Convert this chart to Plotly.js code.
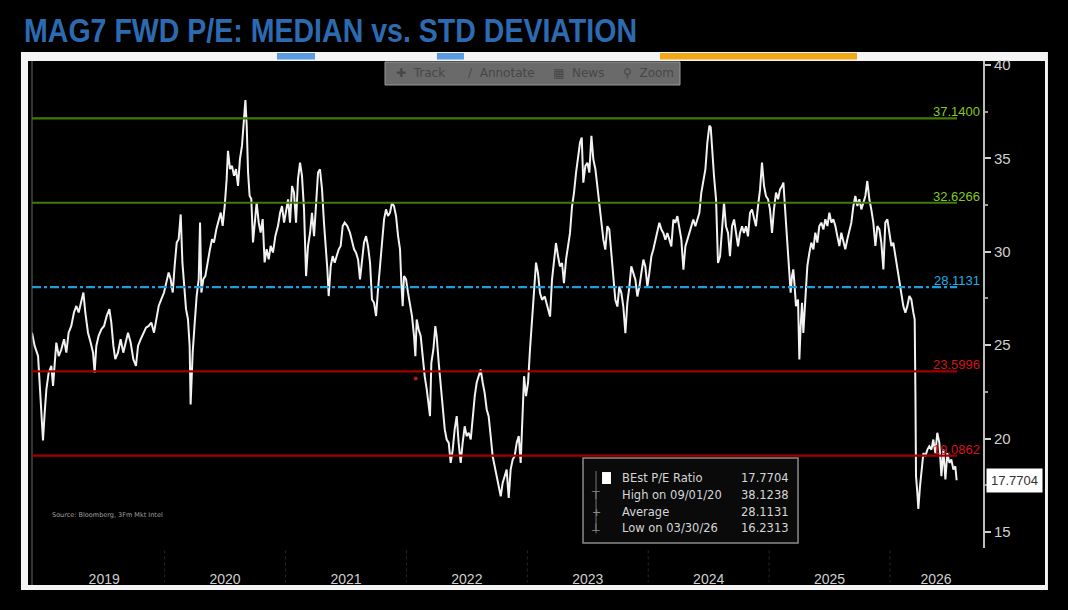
<!DOCTYPE html>
<html>
<head>
<meta charset="utf-8">
<script src="https://cdn.plot.ly/plotly-3.0.1.min.js"></script>
<style>
  html, body { margin: 0; padding: 0; background: #000; }
  #chart { width: 1068px; height: 610px; }
</style>
</head>
<body>
<div id="chart"></div>
<script>
// BEst P/E ratio (x in decimal years)
const obsYear = [
  2018.903, 2018.925, 2018.953, 2018.975, 2018.994, 2019.008, 2019.022, 2019.041, 2019.063, 2019.077,
  2019.091, 2019.104, 2019.124, 2019.146, 2019.168, 2019.187, 2019.206, 2019.228, 2019.250, 2019.270,
  2019.289, 2019.311, 2019.328, 2019.344, 2019.366, 2019.388, 2019.408, 2019.421, 2019.435, 2019.454,
  2019.477, 2019.499, 2019.521, 2019.543, 2019.559, 2019.576, 2019.592, 2019.614, 2019.636, 2019.658,
  2019.681, 2019.697, 2019.719, 2019.741, 2019.763, 2019.780, 2019.802, 2019.824, 2019.846, 2019.868,
  2019.890, 2019.912, 2019.934, 2019.951, 2019.973, 2019.995, 2020.014, 2020.033, 2020.050, 2020.067,
  2020.083, 2020.100, 2020.116, 2020.133, 2020.147, 2020.160, 2020.177, 2020.193, 2020.207, 2020.215,
  2020.232, 2020.249, 2020.265, 2020.282, 2020.293, 2020.304, 2020.320, 2020.337, 2020.359, 2020.375,
  2020.392, 2020.408, 2020.428, 2020.447, 2020.464, 2020.480, 2020.497, 2020.513, 2020.524, 2020.541,
  2020.557, 2020.574, 2020.590, 2020.607, 2020.623, 2020.640, 2020.657, 2020.668, 2020.679, 2020.690,
  2020.703, 2020.717, 2020.731, 2020.745, 2020.761, 2020.778, 2020.794, 2020.811, 2020.827, 2020.844,
  2020.861, 2020.877, 2020.896, 2020.916, 2020.938,
  2020.955, 2020.971, 2020.988, 2021.004, 2021.021, 2021.037, 2021.054, 2021.070, 2021.087, 2021.103,
  2021.120, 2021.136, 2021.153, 2021.170, 2021.186, 2021.203, 2021.219, 2021.236, 2021.252, 2021.269,
  2021.285, 2021.302, 2021.318, 2021.335, 2021.346, 2021.357, 2021.374, 2021.390, 2021.407, 2021.423,
  2021.440, 2021.456, 2021.473, 2021.489, 2021.511, 2021.533, 2021.550, 2021.567, 2021.583, 2021.600,
  2021.616, 2021.633, 2021.649, 2021.666, 2021.682, 2021.699, 2021.715, 2021.732, 2021.749, 2021.765,
  2021.782, 2021.798, 2021.815, 2021.831, 2021.848, 2021.864, 2021.881, 2021.897, 2021.914, 2021.931,
  2021.947, 2021.958, 2021.969, 2021.980, 2021.997, 2022.013, 2022.030, 2022.046, 2022.063, 2022.074,
  2022.085, 2022.101, 2022.118, 2022.134, 2022.151, 2022.168, 2022.184, 2022.195, 2022.206, 2022.223,
  2022.239, 2022.250, 2022.267, 2022.283, 2022.300, 2022.317, 2022.333, 2022.350, 2022.366, 2022.383,
  2022.399, 2022.416, 2022.432, 2022.449, 2022.465, 2022.482, 2022.498, 2022.515, 2022.532, 2022.548,
  2022.565, 2022.581, 2022.598, 2022.614, 2022.631, 2022.647, 2022.664, 2022.680, 2022.697, 2022.713,
  2022.730, 2022.747, 2022.763, 2022.780, 2022.796, 2022.813, 2022.829, 2022.846, 2022.862, 2022.879,
  2022.895, 2022.912, 2022.929, 2022.945, 2022.962, 2022.973, 2022.989, 2023.006, 2023.022, 2023.039,
  2023.055, 2023.072,
  2023.088, 2023.105, 2023.122, 2023.144, 2023.166, 2023.188, 2023.204, 2023.221, 2023.237, 2023.254,
  2023.270, 2023.287, 2023.303, 2023.320, 2023.337, 2023.353, 2023.370, 2023.386, 2023.403, 2023.419,
  2023.436, 2023.450, 2023.463, 2023.480, 2023.497, 2023.513, 2023.530, 2023.546, 2023.563, 2023.579,
  2023.596, 2023.612, 2023.629, 2023.645, 2023.662, 2023.678, 2023.695, 2023.712, 2023.728, 2023.745,
  2023.761, 2023.778, 2023.794, 2023.811, 2023.827, 2023.844, 2023.860, 2023.877, 2023.894, 2023.910,
  2023.927, 2023.943, 2023.960, 2023.976, 2023.993, 2024.009, 2024.026, 2024.042, 2024.059, 2024.076,
  2024.092, 2024.109, 2024.125, 2024.142, 2024.158, 2024.175, 2024.191, 2024.208, 2024.224, 2024.241,
  2024.257, 2024.274, 2024.291, 2024.307, 2024.324, 2024.340, 2024.357, 2024.373, 2024.390, 2024.406,
  2024.423, 2024.439, 2024.456, 2024.473, 2024.489, 2024.506, 2024.517, 2024.528, 2024.544, 2024.561,
  2024.577, 2024.594, 2024.610, 2024.627, 2024.643, 2024.660, 2024.676, 2024.693, 2024.710, 2024.726,
  2024.743, 2024.759, 2024.776, 2024.792, 2024.809, 2024.825, 2024.842, 2024.858, 2024.875, 2024.891,
  2024.908, 2024.925, 2024.941, 2024.958, 2024.974, 2024.991, 2025.007, 2025.024, 2025.040,
  2025.057, 2025.074, 2025.090, 2025.107, 2025.118, 2025.134, 2025.151, 2025.167, 2025.178, 2025.189,
  2025.200, 2025.211, 2025.222, 2025.239, 2025.250, 2025.261, 2025.272, 2025.283, 2025.294, 2025.305,
  2025.316, 2025.333, 2025.349, 2025.366, 2025.382, 2025.399, 2025.415, 2025.432, 2025.449, 2025.465,
  2025.482, 2025.498, 2025.515, 2025.531, 2025.548, 2025.564, 2025.581, 2025.597, 2025.614, 2025.630,
  2025.647, 2025.664, 2025.680, 2025.697, 2025.713, 2025.730, 2025.746, 2025.763, 2025.779, 2025.796,
  2025.812, 2025.829, 2025.845, 2025.862, 2025.879, 2025.895, 2025.912, 2025.928, 2025.945, 2025.961,
  2025.978, 2025.994, 2026.011, 2026.027, 2026.044, 2026.061, 2026.077, 2026.094, 2026.110, 2026.127,
  2026.143, 2026.160, 2026.176, 2026.193, 2026.204, 2026.210, 2026.215, 2026.226, 2026.234, 2026.248,
  2026.265, 2026.276, 2026.292, 2026.309, 2026.325, 2026.342, 2026.358, 2026.375, 2026.391, 2026.408,
  2026.425, 2026.441, 2026.458, 2026.474, 2026.491, 2026.507, 2026.524, 2026.540, 2026.551
];
const bestPE = [
  25.67, 24.96, 24.42, 22.28, 19.90, 21.39, 22.64, 23.53, 23.89, 22.82,
  24.07, 25.14, 24.42, 24.78, 25.32, 24.60, 25.67, 26.03, 26.75, 27.10,
  26.75, 27.46, 27.82, 26.75, 25.67, 25.14, 24.60, 23.53, 24.96, 25.50,
  25.85, 26.03, 26.57, 26.93, 26.21, 24.96, 24.25, 24.60, 25.32, 24.60,
  25.32, 25.67, 25.14, 24.25, 23.89, 24.96, 25.32, 25.67, 25.94, 26.03,
  26.21, 25.67, 26.39, 27.10, 27.46, 27.82, 28.35, 28.89, 28.53, 27.82,
  29.25, 30.50, 30.67, 32.00, 29.43, 28.17, 26.93, 26.39, 24.96, 21.83,
  24.60, 26.21, 27.64, 28.53, 31.57, 27.82, 28.53, 28.71, 29.60, 30.14,
  30.67, 30.50, 31.21, 31.75, 32.10, 31.39, 32.46, 33.89, 35.41, 34.43,
  34.60, 34.07, 34.43, 33.53, 34.96, 35.68, 37.10, 38.12, 36.75, 34.25,
  33.00, 32.82, 30.50, 31.75, 32.64, 31.57, 31.03, 31.75, 29.43, 30.14,
  29.60, 30.32, 29.96, 30.85, 31.39,
  32.09, 32.45, 31.56, 32.27, 32.81, 31.56, 33.52, 33.17, 31.56, 33.88,
  34.77, 34.06, 32.27, 28.70, 30.31, 31.02, 32.09, 30.84, 32.81, 34.24,
  34.42, 33.34, 31.56, 30.31, 29.06, 27.63, 29.24, 29.77, 29.42, 29.77,
  30.13, 30.31, 31.38, 31.56, 31.38, 31.02, 30.49, 30.13, 29.95, 29.59,
  28.52, 29.59, 30.49, 30.84, 30.31, 29.42, 27.45, 27.27, 26.56, 27.99,
  29.24, 30.84, 31.74, 32.27, 31.92, 32.09, 32.63, 32.45, 31.92, 30.84,
  30.13, 28.34, 27.09, 28.70, 28.52, 27.81, 27.27, 26.56, 25.49, 24.41,
  26.38, 25.84, 25.49, 24.41, 23.34, 22.63, 21.91, 21.20, 24.06, 24.77,
  26.02, 25.49, 24.06, 22.99, 21.91, 20.49, 19.95, 19.77, 18.70, 19.41,
  20.49, 21.20, 19.77, 18.70, 19.77, 20.66, 20.13, 20.31, 19.95, 21.20,
  22.27, 22.99, 23.34, 23.70, 22.99, 22.45, 21.56, 21.20, 20.13, 19.06,
  18.52, 17.99, 17.45, 16.91, 17.63, 17.99, 18.34, 16.82, 18.34, 18.88,
  19.06, 19.77, 20.13, 18.70, 21.20, 23.34, 22.27, 22.99, 24.77, 26.56,
  27.99, 29.42,
  28.86, 27.79, 27.43, 27.61, 27.07, 26.53, 28.50, 29.40, 30.47, 29.76,
  29.22, 29.40, 28.32, 29.58, 30.47, 31.01, 32.45, 33.16, 34.24, 34.95,
  35.85, 36.12, 33.70, 34.60, 34.77, 34.24, 36.21, 34.95, 34.42, 33.52,
  32.45, 31.55, 30.65, 30.12, 31.37, 31.19, 29.94, 28.68, 27.43, 27.07,
  28.14, 27.79, 27.07, 25.64, 27.25, 28.14, 29.22, 28.86, 28.50, 27.61,
  28.14, 28.86, 29.58, 29.22, 28.14, 28.86, 29.76, 30.12, 30.65, 31.19,
  31.55, 31.19, 31.01, 30.65, 31.01, 30.65, 30.29, 31.73, 31.55, 31.91,
  31.19, 30.65, 29.04, 30.29, 30.65, 31.01, 31.37, 31.73, 31.37, 31.73,
  32.09, 33.16, 33.88, 34.42, 35.85, 36.75, 36.66, 35.49, 34.06, 32.81,
  29.40, 29.76, 31.37, 32.63, 31.37, 31.01, 29.76, 31.37, 31.73, 31.01,
  30.29, 31.01, 31.37, 31.01, 31.37, 30.83, 32.09, 32.27, 31.73, 31.37,
  32.45, 33.34, 34.77, 33.52, 32.98, 32.81, 32.27, 31.01, 32.27,
  33.17, 32.81, 33.34, 33.52, 33.70, 32.09, 30.31, 29.06, 27.81, 28.70,
  29.06, 28.16, 27.09, 27.45, 24.24, 26.02, 27.27, 25.66, 27.09, 28.52,
  29.24, 29.95, 30.49, 30.13, 31.02, 30.49, 31.38, 31.56, 31.20, 31.74,
  31.38, 32.09, 31.56, 31.74, 31.38, 30.84, 30.31, 31.02, 30.49, 30.13,
  30.67, 31.20, 31.56, 32.45, 32.99, 32.45, 32.81, 32.27, 32.63, 32.99,
  33.79, 32.81, 32.27, 31.56, 30.31, 31.38, 31.20, 30.49, 29.06, 31.56,
  31.74, 31.02, 30.31, 30.49, 29.77, 29.06, 28.52, 27.81, 27.09, 26.74,
  27.09, 27.63, 27.45, 26.74, 26.38, 22.45, 17.99, 17.09, 16.23, 17.45,
  18.52, 19.23, 19.06, 19.41, 19.59, 19.41, 19.95, 19.23, 20.31, 19.77,
  17.99, 19.41, 17.81, 19.23, 18.70, 18.88, 18.34, 18.52, 17.77
];

// median and +/- 1, 2 std deviation levels
const bandLevels = [37.14, 32.6266, 28.1131, 23.5996, 19.0862];
const bandLabels = ['37.1400', '32.6266', '28.1131', '23.5996', '19.0862'];
const bandLineColors = ['#3f7d06', '#3f7d06', '#1a9fd8', '#a00000', '#a00000'];
const bandTextColors = ['#86c81e', '#86c81e', '#22aee6', '#d3141c', '#d3141c'];

// x axis: year labels centred on the visible part of each year
const yearTicks = [2019.5, 2020.5, 2021.5, 2022.5, 2023.5, 2024.5, 2025.5, 2026.38];
const yearLabels = ['2019', '2020', '2021', '2022', '2023', '2024', '2025', '2026'];
const yearStarts = [2020, 2021, 2022, 2023, 2024, 2025, 2026];

const legendNames = ['BEst P/E Ratio', 'High on 09/01/20', 'Average', 'Low on 03/30/26'];
const legendValues = ['17.7704', '38.1238', '28.1131', '16.2313'];
const lastValue = 17.7704;

const noteYear = [2022.077];
const noteValue = [23.22];

const toolbarItems = ['\u271A  Track', '\u2215  Annotate', '\u25A6  News', '\u26B2  Zoom'];
const toolbarX = [0.381, 0.456, 0.546, 0.619];

const xRange = [2018.903, 2026.769];
const yRange = [14.143, 40.214];

const traces = [
  {
    x: obsYear, y: bestPE, type: 'scatter', mode: 'lines',
    line: {color: '#f2f2f2', width: 2},
    hoverinfo: 'skip',
  },
  {
    x: noteYear, y: noteValue, type: 'scatter', mode: 'markers',
    marker: {color: '#c0141c', size: 4},
    hoverinfo: 'skip',
  },
];

const shapes = [
  // white frame around the Bloomberg panel
  {type: 'rect', xref: 'paper', yref: 'paper', x0: -0.0116, x1: 1.0683, y0: -0.0862, y1: 1.0185,
    fillcolor: '#f4f4f4', line: {width: 0}, layer: 'below'},
  {type: 'rect', xref: 'paper', yref: 'paper', x0: -0.0042, x1: 1.0652, y0: -0.076, y1: 1.0,
    fillcolor: '#000', line: {width: 0}, layer: 'below'},
  // header strip highlights
  {type: 'rect', xref: 'paper', yref: 'paper', x0: 0.2576, x1: 0.2976, y0: 1.003, y1: 1.0165,
    fillcolor: '#5b9be0', line: {width: 0}},
  {type: 'rect', xref: 'paper', yref: 'paper', x0: 0.4258, x1: 0.4542, y0: 1.003, y1: 1.0165,
    fillcolor: '#5b9be0', line: {width: 0}},
  {type: 'rect', xref: 'paper', yref: 'paper', x0: 0.6604, x1: 0.8675, y0: 1.003, y1: 1.0165,
    fillcolor: '#f0a818', line: {width: 0}},
  // left edge
  {type: 'line', xref: 'paper', yref: 'paper', x0: 0, x1: 0, y0: -0.076, y1: 1,
    line: {color: '#6a6a6a', width: 1}},
  // toolbar
  {type: 'rect', xref: 'paper', yref: 'paper', x0: 0.3712, x1: 0.6814, y0: 0.9507, y1: 0.998,
    fillcolor: '#6a6a6a', line: {color: '#9a9a9a', width: 1}},
  // legend box
  {type: 'rect', xref: 'paper', yref: 'paper', x0: 0.5794, x1: 0.8055, y0: 0.0103, y1: 0.1848,
    fillcolor: '#0a0a0a', line: {color: '#8a8a8a', width: 1.5}},
  {type: 'line', xref: 'paper', yref: 'paper', x0: 0.5931, x1: 0.5931, y0: 0.030, y1: 0.158,
    line: {color: '#777', width: 1}},
  {type: 'rect', xref: 'paper', yref: 'paper', x0: 0.5994, x1: 0.6088, y0: 0.1314, y1: 0.156,
    fillcolor: '#fff', line: {width: 0}},
];

bandLevels.forEach((lvl, i) => {
  shapes.push({
    type: 'line', xref: 'paper', yref: 'y', x0: 0, x1: 0.9727, y0: lvl, y1: lvl,
    line: {color: bandLineColors[i], width: 2.2, dash: i === 2 ? 'dashdot' : 'solid'},
  });
});

yearStarts.forEach((yr) => {
  shapes.push({
    type: 'line', xref: 'x', yref: 'paper', x0: yr, x1: yr, y0: -0.005, y1: -0.07,
    line: {color: '#262626', width: 1, dash: 'dot'},
  });
});

const annotations = [];

bandLevels.forEach((lvl, i) => {
  annotations.push({
    xref: 'paper', yref: 'y', x: 0.999, y: lvl, xanchor: 'right', yanchor: 'bottom',
    yshift: -3, text: bandLabels[i], showarrow: false,
    font: {family: 'Liberation Sans, Arial, sans-serif', size: 13, color: bandTextColors[i]},
  });
});

// last value tag on the axis
annotations.push({
  xref: 'paper', yref: 'y', x: 1, y: lastValue, xanchor: 'left', yanchor: 'middle',
  xshift: 3, text: lastValue.toFixed(4), showarrow: false,
  bgcolor: '#ffffff', borderpad: 4,
  font: {family: 'Liberation Sans, Arial, sans-serif', size: 13, color: '#333'},
});

// legend rows
const legendRowY = [0.1437, 0.1088, 0.0739, 0.0411];
const legendIcons = ['', '\u22A4', '+', '\u22A5'];
legendNames.forEach((name, i) => {
  annotations.push({
    xref: 'paper', yref: 'paper', x: 0.6183, y: legendRowY[i], xanchor: 'left', yanchor: 'middle',
    text: name, showarrow: false,
    font: {family: 'DejaVu Sans, sans-serif', size: 11.5, color: '#d6d6d6'},
  });
  annotations.push({
    xref: 'paper', yref: 'paper', x: 0.7981, y: legendRowY[i], xanchor: 'right', yanchor: 'middle',
    text: legendValues[i], showarrow: false,
    font: {family: 'DejaVu Sans, sans-serif', size: 11.5, color: '#d6d6d6'},
  });
  if (legendIcons[i]) {
    annotations.push({
      xref: 'paper', yref: 'paper', x: 0.5931, y: legendRowY[i], xanchor: 'center', yanchor: 'middle',
      text: legendIcons[i], showarrow: false,
      font: {family: 'DejaVu Sans, sans-serif', size: 11, color: '#8a8a8a'},
    });
  }
});

toolbarItems.forEach((label, i) => {
  annotations.push({
    xref: 'paper', yref: 'paper', x: toolbarX[i], y: 0.9745, xanchor: 'left', yanchor: 'middle',
    text: label, showarrow: false,
    font: {family: 'DejaVu Sans, sans-serif', size: 12, color: '#474747'},
  });
});

annotations.push({
  xref: 'paper', yref: 'paper', x: 0.019, y: 0.0678, xanchor: 'left', yanchor: 'middle',
  text: 'Source: Bloomberg, 3Fm Mkt Intel', showarrow: false,
  font: {family: 'DejaVu Sans, sans-serif', size: 6.5, color: '#a0a0a0'},
});

const layout = {
  width: 1068,
  height: 610,
  margin: {l: 32, r: 85, t: 61, b: 62},
  paper_bgcolor: '#000',
  plot_bgcolor: 'rgba(0,0,0,0)',
  showlegend: false,
  title: {
    text: '<b>MAG7 FWD P/E: MEDIAN vs. STD DEVIATION</b>',
    xref: 'container', yref: 'container', x: 0.0225, y: 0.951,
    xanchor: 'left', yanchor: 'middle',
    font: {family: 'Liberation Sans, Arial, sans-serif', size: 34, color: '#2c6bb1'},
  },
  xaxis: {
    range: xRange,
    tickvals: yearTicks,
    ticktext: yearLabels,
    ticks: 'outside',
    ticklen: 18,
    tickcolor: 'rgba(0,0,0,0)',
    showgrid: false,
    zeroline: false,
    showline: false,
    tickfont: {family: 'Liberation Sans, Arial, sans-serif', size: 14, color: '#cfcfcf'},
    fixedrange: true,
  },
  yaxis: {
    range: yRange,
    side: 'right',
    tickvals: [15, 20, 25, 30, 35, 40],
    ticks: 'outside',
    ticklen: 6,
    tickwidth: 2,
    tickcolor: '#cfcfcf',
    minor: {dtick: 2.5, tick0: 0, ticks: 'outside', ticklen: 3, tickcolor: '#9a9a9a'},
    showline: true,
    linecolor: '#bdbdbd',
    linewidth: 2,
    showgrid: false,
    zeroline: false,
    tickfont: {family: 'Liberation Sans, Arial, sans-serif', size: 15, color: '#cfcfcf'},
    fixedrange: true,
  },
  shapes: shapes,
  annotations: annotations,
};

Plotly.newPlot('chart', traces, layout, {displayModeBar: false, staticPlot: true}).then((gd) => {
  // the reference headline uses a narrow bold face: squeeze it to the same width
  const t = gd.querySelector('.gtitle');
  if (t) {
    t.setAttribute('textLength', '613');
    t.setAttribute('lengthAdjust', 'spacingAndGlyphs');
  }
});
</script>
</body>
</html>
